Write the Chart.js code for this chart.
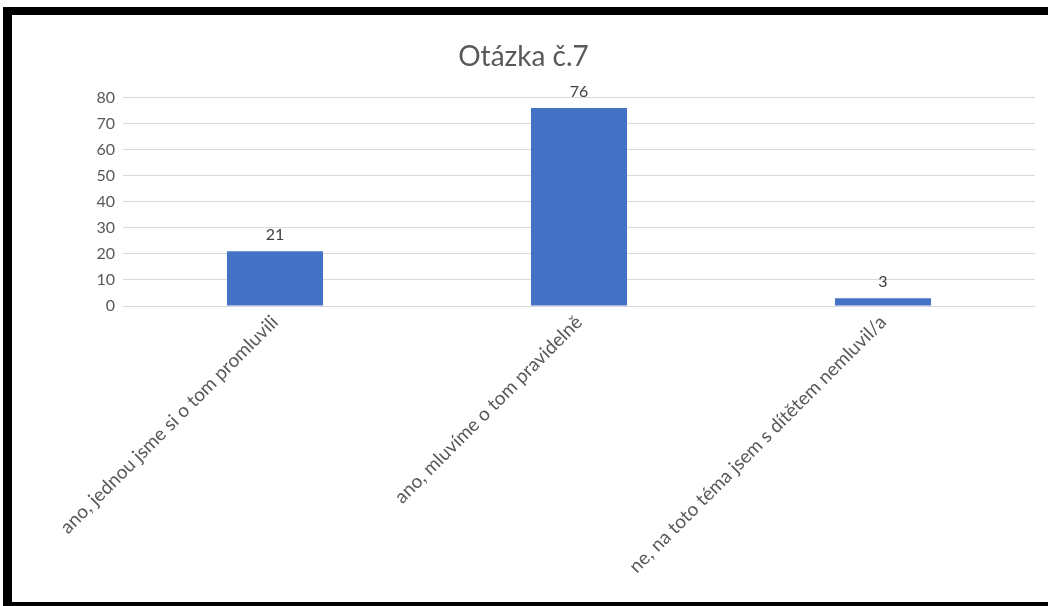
<!DOCTYPE html>
<html>
<head>
<meta charset="utf-8">
<script src="https://cdn.jsdelivr.net/npm/chart.js@4.4.0/dist/chart.umd.min.js"></script>
<style>
  html, body { margin: 0; padding: 0; background: #fff; overflow: hidden; }
  .frame {
    position: absolute; left: 3px; top: 7px;
    width: 1100px; height: 587px;
    border-left: 9px solid #000; border-top: 8px solid #000; border-bottom: 4px solid #000;
  }
  .chartBox { position: relative; width: 1036px; height: 587px; }
</style>
</head>
<body>
<div class="frame">
  <div class="chartBox"><canvas id="otazkaChart"></canvas></div>
</div>
<script>
// Données du graphique
const chartTitle = "Otázka č.7";
const categories = [
    "ano, jednou jsme si o tom promluvili",
    "ano, mluvíme o tom pravidelně",
    "ne, na toto téma jsem s dítětem nemluvil/a"
];
const answers = [21, 76, 3];
const yTicks = [0, 10, 20, 30, 40, 50, 60, 70, 80];

const textGrey = '#595959';
const fontFamily = 'Lato, "Open Sans", sans-serif';

// Étiquettes de valeur au-dessus des barres
const valueLabels = {
    id: 'valueLabels',
    afterDatasetsDraw(chart) {
        const ctx = chart.ctx;
        const meta = chart.getDatasetMeta(0);
        ctx.save();
        ctx.fillStyle = '#404040';
        ctx.font = '16px ' + fontFamily;
        ctx.textAlign = 'center';
        ctx.textBaseline = 'bottom';
        meta.data.forEach((bar, i) => {
            ctx.fillText(String(answers[i]), bar.x, bar.y - 8);
        });
        ctx.restore();
    }
};

const ctx = document.getElementById('otazkaChart').getContext('2d');
new Chart(ctx, {
    type: 'bar',
    data: {
        labels: categories,
        datasets: [{
            data: answers,
            backgroundColor: '#4472C4',
            borderWidth: 0,
            barPercentage: 0.316,
            categoryPercentage: 1
        }]
    },
    options: {
        responsive: true,
        maintainAspectRatio: false,
        animation: false,
        layout: { padding: { left: 0, right: 13, top: 0, bottom: 0 } },
        plugins: {
            legend: { display: false },
            tooltip: { enabled: false },
            title: {
                display: true,
                text: chartTitle,
                color: textGrey,
                font: { family: fontFamily, size: 28, weight: 'normal' },
                padding: { top: 25, bottom: 24 }
            }
        },
        scales: {
            x: {
                grid: { display: false, drawTicks: false },
                border: { display: false },
                afterFit: (scale) => { scale.height = 296; },
                ticks: {
                    color: textGrey,
                    font: { family: fontFamily, size: 19 },
                    minRotation: 45,
                    maxRotation: 45,
                    padding: 5,
                    autoSkip: false
                }
            },
            y: {
                min: 0,
                max: 80,
                afterBuildTicks: (scale) => { scale.ticks = yTicks.map(v => ({ value: v })); },
                afterFit: (scale) => { scale.width = 111; },
                grid: { color: '#d9d9d9', lineWidth: 1, drawTicks: false },
                border: { display: false },
                ticks: {
                    color: textGrey,
                    font: { family: fontFamily, size: 16 },
                    padding: 8
                }
            }
        }
    },
    plugins: [valueLabels]
});
</script>
</body>
</html>
